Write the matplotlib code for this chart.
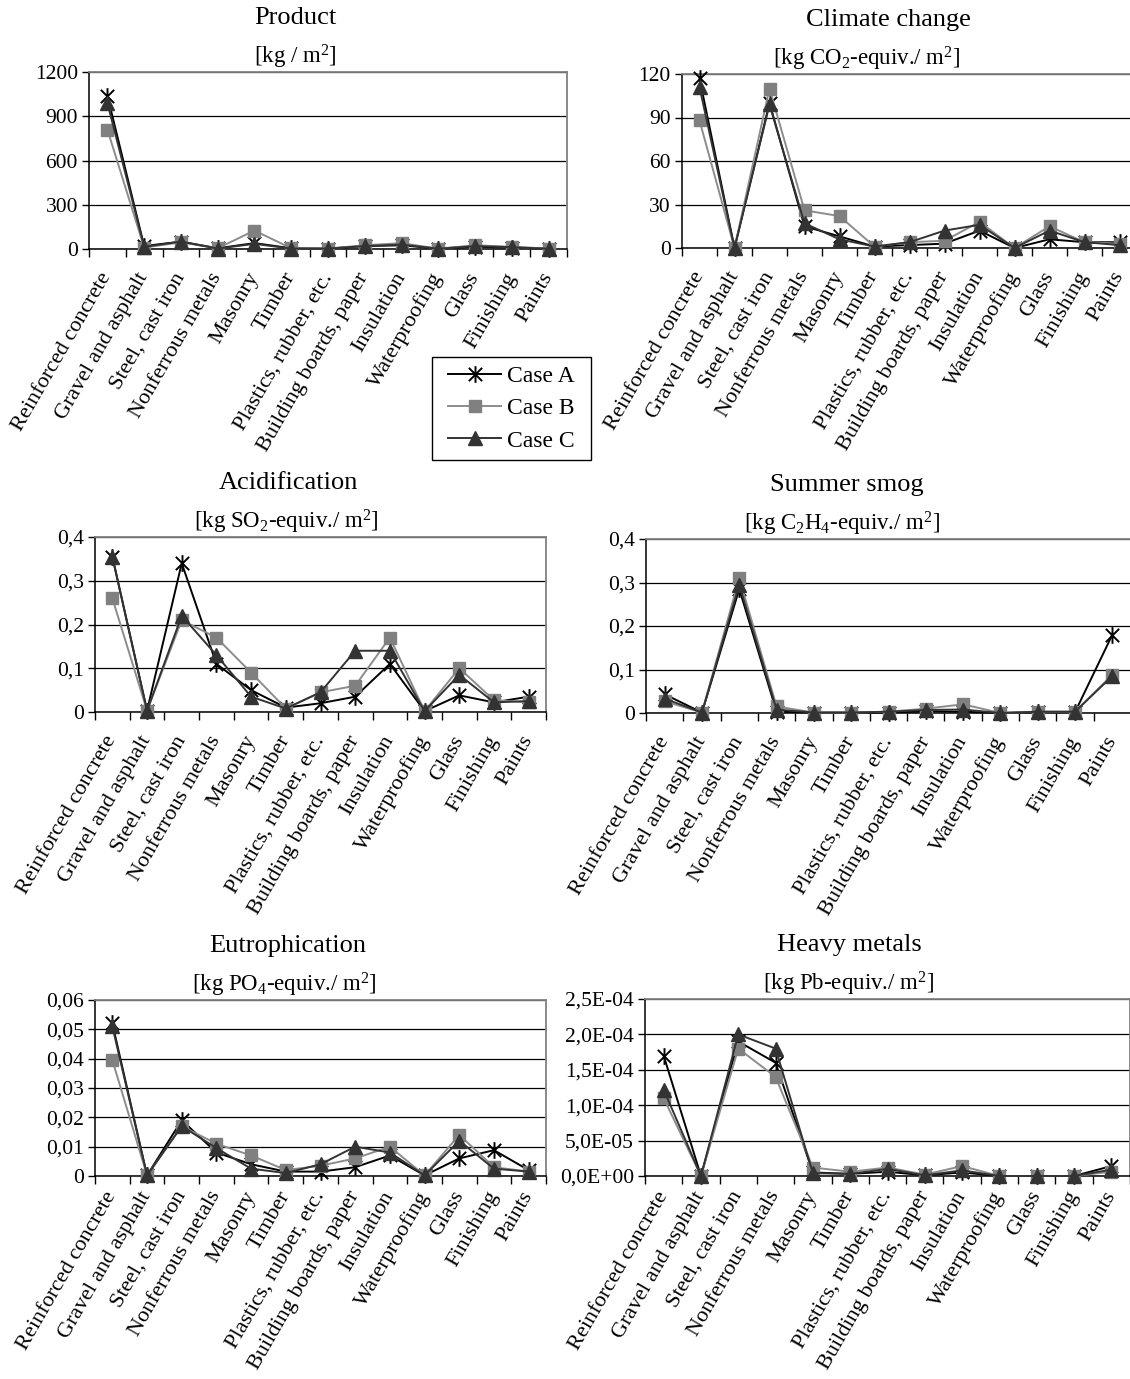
import matplotlib
matplotlib.use("Agg")
import matplotlib.pyplot as plt
from matplotlib.path import Path
from matplotlib.lines import Line2D
from matplotlib.patches import Rectangle
from matplotlib.ticker import FixedLocator, FixedFormatter

plt.rcParams['font.family'] = ['Liberation Serif', 'DejaVu Serif']
plt.rcParams['mathtext.fontset'] = 'custom'
plt.rcParams['mathtext.rm'] = 'Liberation Serif'
plt.rcParams['mathtext.it'] = 'Liberation Serif'

categories = ["Reinforced concrete", "Gravel and asphalt", "Steel, cast iron",
              "Nonferrous metals", "Masonry", "Timber", "Plastics, rubber, etc.",
              "Building boards, paper", "Insulation", "Waterproofing", "Glass",
              "Finishing", "Paints"]
case_names = ["Case A", "Case B", "Case C"]

product_a = [1040, 20, 50, 5, 40, 5, 2, 20, 25, 3, 15, 10, 3]
product_b = [810, 10, 45, 5, 125, 5, 3, 25, 40, 2, 25, 15, 3]
product_c = [990, 15, 50, 3, 35, 3, 3, 20, 30, 2, 20, 12, 2]

climate_a = [117, 0, 100, 15, 8, 1, 2, 3, 12, 0, 6, 4, 4]
climate_b = [88, 0, 110, 26, 22, 1, 4, 5, 18, 0, 15, 4, 3]
climate_c = [111, 0, 99, 17, 6, 1, 4, 12, 16, 0, 12, 4, 2]

acid_a = [0.355, 0.003, 0.34, 0.11, 0.05, 0.01, 0.02, 0.035, 0.11, 0.002, 0.038, 0.022, 0.035]
acid_b = [0.26, 0.003, 0.21, 0.17, 0.09, 0.008, 0.045, 0.06, 0.17, 0.002, 0.10, 0.027, 0.022]
acid_c = [0.355, 0.003, 0.22, 0.13, 0.035, 0.008, 0.045, 0.14, 0.14, 0.002, 0.085, 0.022, 0.025]

smog_a = [0.043, 0.001, 0.285, 0.003, 0.001, 0.001, 0.001, 0.004, 0.003, 0.0, 0.002, 0.002, 0.18]
smog_b = [0.027, 0.001, 0.31, 0.015, 0.001, 0.001, 0.003, 0.01, 0.02, 0.0, 0.003, 0.003, 0.088]
smog_c = [0.033, 0.001, 0.295, 0.008, 0.001, 0.001, 0.003, 0.007, 0.008, 0.0, 0.003, 0.003, 0.085]

eutro_a = [0.052, 0.0002, 0.019, 0.008, 0.004, 0.0015, 0.0015, 0.003, 0.007, 0.0002, 0.006, 0.0088, 0.002]
eutro_b = [0.0395, 0.0002, 0.017, 0.011, 0.007, 0.002, 0.0035, 0.006, 0.010, 0.0002, 0.014, 0.003, 0.0015]
eutro_c = [0.051, 0.0002, 0.017, 0.0095, 0.0025, 0.001, 0.004, 0.010, 0.008, 0.0002, 0.012, 0.0025, 0.0015]

heavy_a = [1.7e-4, 0, 1.9e-4, 1.6e-4, 5e-6, 3e-6, 6e-6, 1e-6, 5e-6, 0, 0, 0, 1.4e-5]
heavy_b = [1.1e-4, 0, 1.8e-4, 1.4e-4, 1.2e-5, 6e-6, 1.2e-5, 2e-6, 1.4e-5, 0, 0, 0, 6e-6]
heavy_c = [1.22e-4, 0, 2.0e-4, 1.8e-4, 4e-6, 3e-6, 1e-5, 1e-6, 8e-6, 0, 0, 0, 9e-6]

titles = ["Product", "Climate change", "Acidification", "Summer smog",
          "Eutrophication", "Heavy metals"]
units = [r"[kg / m$^{2}$]", r"[kg CO$_{2}$-equiv./ m$^{2}$]",
         r"[kg SO$_{2}$-equiv./ m$^{2}$]", r"[kg C$_{2}$H$_{4}$-equiv./ m$^{2}$]",
         r"[kg PO$_{4}$-equiv./ m$^{2}$]", r"[kg Pb-equiv./ m$^{2}$]"]

product_ticks = [0, 300, 600, 900, 1200]
product_labels = ["0", "300", "600", "900", "1200"]
climate_ticks = [0, 30, 60, 90, 120]
climate_labels = ["0", "30", "60", "90", "120"]
acid_ticks = [0, 0.1, 0.2, 0.3, 0.4]
acid_labels = ["0", "0,1", "0,2", "0,3", "0,4"]
smog_ticks = [0, 0.1, 0.2, 0.3, 0.4]
smog_labels = ["0", "0,1", "0,2", "0,3", "0,4"]
eutro_ticks = [0, 0.01, 0.02, 0.03, 0.04, 0.05, 0.06]
eutro_labels = ["0", "0,01", "0,02", "0,03", "0,04", "0,05", "0,06"]
heavy_ticks = [0, 5e-5, 1e-4, 1.5e-4, 2e-4, 2.5e-4]
heavy_labels = ["0,0E+00", "5,0E-05", "1,0E-04", "1,5E-04", "2,0E-04", "2,5E-04"]

panels = [
    (product_a, product_b, product_c, product_ticks, product_labels),
    (climate_a, climate_b, climate_c, climate_ticks, climate_labels),
    (acid_a, acid_b, acid_c, acid_ticks, acid_labels),
    (smog_a, smog_b, smog_c, smog_ticks, smog_labels),
    (eutro_a, eutro_b, eutro_c, eutro_ticks, eutro_labels),
    (heavy_a, heavy_b, heavy_c, heavy_ticks, heavy_labels),
]

# pixel layout: left, right, top, bottom, title centre x, units centre x, label pad
boxes = [
    (89, 567, 72, 249, 295, 295, 18),
    (682, 1137, 74, 248, 888, 867, 18),
    (95, 546, 537, 712, 288, 286, 18),
    (646, 1131, 539, 713, 847, 842, 18),
    (95, 546, 1000, 1176, 288, 284, 12),
    (645, 1130, 999, 1176, 849, 849, 12),
]

W, H = 1130, 1379
fig = plt.figure(figsize=(W / 100, H / 100), dpi=100)
fig.patch.set_facecolor('white')

star = Path([(0, -1), (0, 1), (-0.8, -0.8), (0.8, 0.8), (-0.8, 0.8), (0.8, -0.8)],
            [Path.MOVETO, Path.LINETO, Path.MOVETO, Path.LINETO, Path.MOVETO, Path.LINETO])

styles = [
    dict(color='black', lw=1.4, marker=star, markersize=12, markeredgewidth=1.4,
         markerfacecolor='none', markeredgecolor='black'),
    dict(color='#8c8c8c', lw=1.4, marker='s', markersize=8,
         markerfacecolor='#808080', markeredgecolor='#808080'),
    dict(color='#333333', lw=1.4, marker='^', markersize=9.5,
         markerfacecolor='#333333', markeredgecolor='#333333'),
]

n = len(categories)
xs = [i + 0.5 for i in range(n)]

for idx, (panel, box) in enumerate(zip(panels, boxes)):
    a, b, c, ticks, tlabels = panel
    l, r, t, btm, tcx, ucx, lpad = box
    ax = fig.add_axes([l / W, 1 - btm / H, (r - l) / W, (btm - t) / H])
    ax.set_zorder(2)
    ax.patch.set_alpha(0.0)
    for series, st in zip((a, b, c), styles):
        ax.plot(xs, series, clip_on=False, zorder=3, **st)
    ax.set_xlim(0, n)
    ax.set_ylim(ticks[0], ticks[-1])
    ax.yaxis.set_major_locator(FixedLocator(ticks))
    ax.yaxis.set_major_formatter(FixedFormatter(tlabels))
    ax.grid(axis='y', color='black', lw=0.9)
    ax.set_axisbelow(True)
    ax.xaxis.set_major_locator(FixedLocator(xs))
    ax.xaxis.set_major_formatter(FixedFormatter(categories))
    ax.xaxis.set_minor_locator(FixedLocator(list(range(n + 1))))
    ax.tick_params(axis='x', which='major', length=0, pad=lpad, labelsize=16)
    ax.tick_params(axis='x', which='minor', length=6, width=1, color='black')
    ax.tick_params(axis='y', length=5, width=1, labelsize=15.5, pad=3)
    for lab in ax.get_xticklabels():
        lab.set_rotation(60)
        lab.set_ha('right')
        lab.set_va('center')
        lab.set_rotation_mode('anchor')
    for s in ('top', 'right'):
        ax.spines[s].set_color('#808080')
        ax.spines[s].set_linewidth(1.3)
    for s in ('left', 'bottom'):
        ax.spines[s].set_color('black')
        ax.spines[s].set_linewidth(1.1)
    fig.text(tcx / W, 1 - (t - 54) / H, titles[idx], ha='center', va='center', fontsize=19)
    fig.text(ucx / W, 1 - (t - 15) / H, units[idx], ha='center', va='center', fontsize=16.5)

# legend frame drawn as a rectangle, legend entries centred inside it
lx0, lx1, ly0, ly1 = 432, 591, 357, 460
fig.patches.append(Rectangle((lx0 / W, 1 - ly1 / H), (lx1 - lx0) / W, (ly1 - ly0) / H,
                             transform=fig.transFigure, facecolor='white',
                             edgecolor='black', lw=1.0, zorder=0.5))
handles = [Line2D([], [], **st) for st in styles]
leg = fig.legend(handles, case_names, loc='center',
                 bbox_to_anchor=((lx0 + lx1) / 2 / W, 1 - (ly0 + ly1) / 2 / H),
                 fontsize=17, frameon=False,
                 handlelength=2.25, handletextpad=0.25, borderpad=0.1,
                 labelspacing=0.46, borderaxespad=0)
leg.set_zorder(1)

fig.savefig("out.png", dpi=100, facecolor='white')
